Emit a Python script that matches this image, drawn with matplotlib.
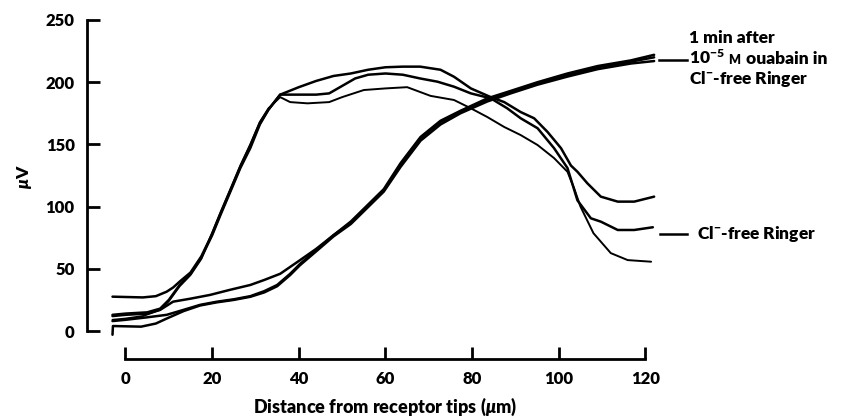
import matplotlib
matplotlib.use("Agg")
import matplotlib.pyplot as plt

WEIGHT = 'heavy'
plt.rcParams['font.family'] = ['Lato', 'DejaVu Sans']
plt.rcParams['font.weight'] = WEIGHT
plt.rcParams['mathtext.fontset'] = 'custom'
plt.rcParams['mathtext.rm'] = 'Lato:' + WEIGHT
plt.rcParams['mathtext.it'] = 'Lato:italic:' + WEIGHT
plt.rcParams['mathtext.bf'] = 'Lato:' + WEIGHT

# ---- data (distance in um, potential in uV) ----
# Cl- -free Ringer traces
cl_a_x = [-3, 4, 7, 9.5, 11, 12.6, 15, 17.5, 20, 22, 24.2, 26.5, 28.8, 31, 33, 35.7, 40, 44, 48, 52, 56, 60,
          64, 68, 72.7, 75.8, 79.7, 84.3, 87.4, 91.2, 94.3, 97.4, 100.5, 102.8, 104.3, 106.6, 109.7, 113.6, 117.4, 122]
cl_a_v = [27.6, 27, 28, 31.6, 35, 40, 47, 60, 78, 95, 113, 132, 149, 167, 178, 190, 196, 201, 205, 207, 210, 212,
          212.5, 212.5, 210, 204.4, 195, 188, 184, 176, 171, 160, 147, 133, 128, 118.7, 108, 104, 104, 108]

cl_b_x = [-3, 0, 5, 8, 10, 12.5, 15, 17.5, 20, 22, 24.2, 26.5, 28.8, 31, 33, 35.7, 40, 44, 47, 50, 53, 56, 60,
          64, 68, 72, 75.8, 79.7, 84.3, 88.1, 91.2, 95.1, 98.9, 102, 104.3, 107.4, 109.7, 113.6, 117.4, 121.7]
cl_b_v = [13, 14, 15, 18, 25, 37, 46, 59, 77, 94, 112, 131, 147, 166, 178, 190, 190, 190, 191, 197, 203, 206, 207,
          206, 203, 200.4, 196.4, 191, 187, 179, 171, 163, 147, 131, 105, 90.6, 87.9, 81.2, 81.2, 83.4]

cl_c_x = [-3, 0, 4, 8, 10, 12.5, 15, 17.5, 20, 22, 24.2, 26.5, 28.8, 31, 33, 35.7, 38, 42, 47, 50, 55, 60, 65,
          70.4, 75.8, 79.7, 83.5, 87.4, 91.2, 95.1, 98.9, 102, 103.5, 105, 108, 112, 115.9, 121.3]
cl_c_v = [9, 10, 12, 17, 24, 36, 45, 58, 79, 96, 114, 133, 150, 168, 179, 188, 184, 183, 184, 188, 193.7, 195, 196,
          189, 185.7, 179, 172, 164, 157.5, 149.5, 139, 128, 115, 100, 78.6, 62.6, 57, 55.7]

# 1 min after 1e-5 M ouabain in Cl- -free Ringer
ou_1_x = [-3, 0, 5, 8, 11, 15, 19.5, 24, 28.8, 32, 35.7, 40.3, 44, 48, 52, 55.8, 59.6, 63.5, 68.1, 72.7, 77.3,
          83.5, 88.9, 95.1, 102, 109, 116.6, 122]
ou_1_v = [12, 13, 14, 17, 23.6, 26, 29, 33, 37, 41, 46, 57, 66, 77, 88, 101, 114, 135, 156, 169, 177,
          187, 193, 200, 207, 213, 217.5, 222]

ou_2_x = [-3, 0, 5, 9.5, 13.4, 17.2, 21, 25, 28.8, 32, 35, 38, 40.3, 44, 48, 52, 55.8, 59.6, 63.5, 68.1, 72.7,
          77.3, 83.5, 88.9, 95.1, 102, 109, 116.6, 122]
ou_2_v = [8, 9, 11, 13, 17, 21, 23.5, 25.5, 28, 32, 37, 46, 54, 65, 77, 87, 100, 113, 134, 155, 168,
          176, 185.7, 192, 199, 205.8, 212, 216.5, 220]

ou_3_x = [-3, -2.9, 3.6, 7, 9.5, 13.4, 17.2, 21, 25, 28.8, 32, 35, 38, 40.3, 44, 48, 52, 55.8, 59.6, 63.5, 68.1,
          72.7, 77.3, 83.5, 88.9, 95.1, 102, 109, 116.6, 122]
ou_3_v = [-3, 4, 3.5, 6, 10, 16, 20.5, 23, 25, 27.5, 31, 36, 45, 53, 64, 76, 86, 99, 112, 132, 153,
          166, 175, 184.5, 191, 198, 204.5, 210.5, 215, 217]

x_ticks = [0, 20, 40, 60, 80, 100, 120]
y_ticks = [0, 50, 100, 150, 200, 250]

# ---- figure ----
W, H = 857, 420
fig = plt.figure(figsize=(W / 100, H / 100), dpi=100)
ax = fig.add_axes([86.5 / W, (H - 359) / H, (656.3 - 86.5) / W, (359 - 17.5) / H])
ax.set_xlim(-9, 122.5)
ax.set_ylim(-22.5, 252)

lw = 1.8
for xs, vs, w in [(cl_a_x, cl_a_v, lw), (cl_b_x, cl_b_v, lw), (cl_c_x, cl_c_v, 1.4),
                  (ou_1_x, ou_1_v, lw), (ou_2_x, ou_2_v, lw), (ou_3_x, ou_3_v, lw)]:
    ax.plot(xs, vs, color='black', lw=w, solid_capstyle='round', solid_joinstyle='round', clip_on=False)

for s in ['top', 'right']:
    ax.spines[s].set_visible(False)
ax.spines['left'].set_bounds(0, 250)
ax.spines['bottom'].set_bounds(0, 120)
ax.spines['left'].set_linewidth(2.0)
ax.spines['bottom'].set_linewidth(2.0)

ax.set_xticks(x_ticks)
ax.set_yticks(y_ticks)
ax.tick_params(axis='y', direction='in', length=9.5, width=2.0, pad=8.5, labelsize=12)
ax.tick_params(axis='x', direction='in', length=8.5, width=2.0, pad=9, labelsize=12)
for lab in ax.get_xticklabels() + ax.get_yticklabels():
    lab.set_fontweight(WEIGHT)

ax.set_xlabel(r'Distance from receptor tips ($\mu$m)', fontsize=13, fontweight=WEIGHT)
ax.xaxis.set_label_coords((385 - 86.5) / (656.3 - 86.5), (359 - 406.7) / (359 - 17.5))
ax.xaxis.label.set_va('center')
ax.set_ylabel(r'$\mu$V', fontsize=12.5, fontweight=WEIGHT)
ax.yaxis.set_label_coords((25 - 86.5) / (656.3 - 86.5), (359 - 177) / (359 - 17.5))
ax.yaxis.label.set_va('center')

# ---- annotations ----
fs = 12.5
ax.plot([123.1, 129.6], [217.8, 217.8], color='black', lw=1.8, clip_on=False)
ax.text(130.0, 235.5, '1 min after', fontsize=fs, fontweight=WEIGHT, va='center', ha='left', clip_on=False)
t10 = ax.text(130.0, 214.8, r'10$^{-5}$', fontsize=fs, fontweight=WEIGHT, va='baseline', ha='left',
              clip_on=False)
tm = ax.annotate('M', xy=(1, 0), xycoords=t10, xytext=(2.5, 0.5), textcoords='offset points',
                 fontsize=9, fontweight=WEIGHT, va='bottom', ha='left', annotation_clip=False)
ax.annotate('ouabain in', xy=(1, 0), xycoords=tm, xytext=(4, -0.5), textcoords='offset points',
            fontsize=fs, fontweight=WEIGHT, va='bottom', ha='left', annotation_clip=False)
ax.text(130.0, 202.5, r'Cl$^{-}$-free Ringer', fontsize=fs, fontweight=WEIGHT, va='center', ha='left',
        clip_on=False)

ax.plot([123.4, 129.6], [78, 78], color='black', lw=1.8, clip_on=False)
ax.text(131.9, 78, r'Cl$^{-}$-free Ringer', fontsize=fs, fontweight=WEIGHT, va='center', ha='left',
        clip_on=False)

fig.savefig('out.png', dpi=100)
